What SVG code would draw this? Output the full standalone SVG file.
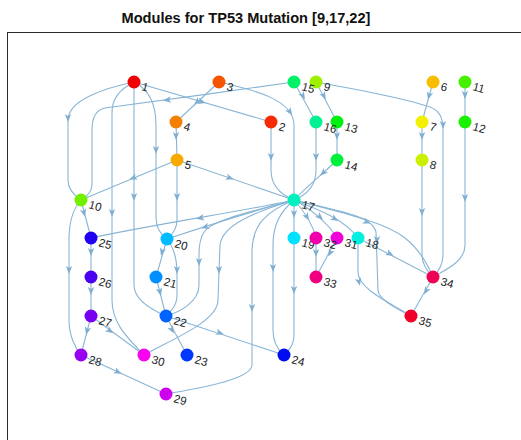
<svg xmlns="http://www.w3.org/2000/svg" xmlns:xlink="http://www.w3.org/1999/xlink" width="521" height="440" viewBox="0 0 521 440">
  <style>
    .title { font-family: "Liberation Sans", Arial, sans-serif; font-size: 14.6px; font-weight: bold; fill: #111; }
    .frame { fill: none; stroke: #2b2b2b; stroke-width: 1; }
    .edge path { fill: none; stroke: #88b5d6; stroke-width: 1.1; }
    .edge use { fill: #80aed0; }
    .node text { font-family: "Liberation Sans", Arial, sans-serif; font-size: 11.5px; fill: #222; }
  </style>
  <defs>
    <path id="ah" d="M4,0 L-4,-3.2 L-2,0 L-4,3.2 Z"/>
  </defs>

  <text class="title" x="246" y="23" text-anchor="middle">Modules for TP53 Mutation [9,17,22]</text>
  <rect class="frame" x="7.5" y="32.5" width="600" height="500"/>

  <g id="connectors">
    <g class="edge" id="e1-10"><path d="M134,82 C105,88 68,100 68,120 L68,180 C68,190 75,196 81,200"/><use xlink:href="#ah" transform="translate(68,118) rotate(90)"/></g>
    <g class="edge" id="e15-10"><path d="M294,82 C240,90 140,103 105,108 C95,110 92,118 92,130 L92,185 C92,192 86,197 81,200"/><use xlink:href="#ah" transform="translate(167,100) rotate(173)"/></g>
    <g class="edge" id="e1-30"><path d="M134,82 C118,90 112,100 112,112 L112,300 C112,325 130,340 144,355"/><use xlink:href="#ah" transform="translate(112,213) rotate(90)"/></g>
    <g class="edge" id="e1-22"><path d="M134,82 L134,285 C134,300 152,310 166,316"/><use xlink:href="#ah" transform="translate(134,197) rotate(90)"/></g>
    <g class="edge" id="e1-20"><path d="M134,82 C150,90 156,105 156,125 L156,215 C156,228 160,234 167,239"/><use xlink:href="#ah" transform="translate(156,150) rotate(90)"/></g>
    <g class="edge" id="e1-2"><path d="M134,82 L271,122"/><use xlink:href="#ah" transform="translate(202,102) rotate(16)"/></g>
    <g class="edge" id="e3-4"><path d="M219,82 L176,122"/><use xlink:href="#ah" transform="translate(197,102) rotate(137)"/></g>
    <g class="edge" id="e3-17"><path d="M219,82 C255,90 294,100 294,125 L294,200"/><use xlink:href="#ah" transform="translate(290,112) rotate(55)"/></g>
    <g class="edge" id="e2-17"><path d="M271,122 L271,170 C271,188 284,196 294,200"/><use xlink:href="#ah" transform="translate(271,157) rotate(90)"/></g>
    <g class="edge" id="e16-17"><path d="M316,122 L316,170 C316,188 304,196 294,200"/><use xlink:href="#ah" transform="translate(316,157) rotate(90)"/></g>
    <g class="edge" id="e14-17"><path d="M337,160 C325,172 305,188 294,200"/><use xlink:href="#ah" transform="translate(323,173) rotate(137)"/></g>
    <g class="edge" id="e15-16"><path d="M294,82 L316,122"/><use xlink:href="#ah" transform="translate(303,96) rotate(61)"/></g>
    <g class="edge" id="e9-13"><path d="M316,82 L337,122"/><use xlink:href="#ah" transform="translate(324,96) rotate(62)"/></g>
    <g class="edge" id="e9-34"><path d="M316,82 C360,90 410,100 430,107 C440,111 443,118 443,130 L443,255 C443,265 438,272 433,277"/><use xlink:href="#ah" transform="translate(443,125) rotate(90)"/></g>
    <g class="edge" id="e6-7"><path d="M433,82 L422,122"/><use xlink:href="#ah" transform="translate(429,96) rotate(105)"/></g>
    <g class="edge" id="e11-12"><path d="M465,82 L465,122"/><use xlink:href="#ah" transform="translate(465,95) rotate(90)"/></g>
    <g class="edge" id="e7-8"><path d="M422,122 L422,160"/><use xlink:href="#ah" transform="translate(422,136) rotate(90)"/></g>
    <g class="edge" id="e8-34"><path d="M422,160 L422,255 C422,265 428,272 433,277"/><use xlink:href="#ah" transform="translate(422,212) rotate(90)"/></g>
    <g class="edge" id="e12-34"><path d="M465,122 L465,245 C465,262 445,270 433,277"/><use xlink:href="#ah" transform="translate(465,198) rotate(90)"/></g>
    <g class="edge" id="e13-14"><path d="M337,122 L337,160"/><use xlink:href="#ah" transform="translate(337,136) rotate(90)"/></g>
    <g class="edge" id="e4-5"><path d="M176,122 L177,160"/><use xlink:href="#ah" transform="translate(176,136) rotate(90)"/></g>
    <g class="edge" id="e5-10"><path d="M177,160 L81,200"/><use xlink:href="#ah" transform="translate(133,178) rotate(157)"/></g>
    <g class="edge" id="e5-17"><path d="M177,160 L294,200"/><use xlink:href="#ah" transform="translate(230,178) rotate(19)"/></g>
    <g class="edge" id="e5-20"><path d="M177,160 L177,220 C177,230 172,235 167,239"/><use xlink:href="#ah" transform="translate(177,197) rotate(90)"/></g>
    <g class="edge" id="e17-25"><path d="M294,200 C250,210 150,225 91,238"/><use xlink:href="#ah" transform="translate(200,218) rotate(169)"/></g>
    <g class="edge" id="e17-20"><path d="M294,200 C250,212 200,228 167,239"/><use xlink:href="#ah" transform="translate(205,227) rotate(163)"/></g>
    <g class="edge" id="e17-22"><path d="M294,200 C250,212 212,220 204,232 C200,238 199,245 199,255 L199,285 C199,302 180,312 166,316"/><use xlink:href="#ah" transform="translate(199,262) rotate(90)"/></g>
    <g class="edge" id="e17-30"><path d="M294,200 C255,212 222,225 220,245 L218,300 C218,322 170,340 144,355"/><use xlink:href="#ah" transform="translate(219,270) rotate(90)"/></g>
    <g class="edge" id="e17-29"><path d="M294,200 C265,212 253,225 252,250 L252,365 C252,380 190,390 166,394"/><use xlink:href="#ah" transform="translate(252,308) rotate(90)"/></g>
    <g class="edge" id="e17-24"><path d="M294,200 C280,212 273,225 273,245 L273,330 C273,342 278,350 284,355"/><use xlink:href="#ah" transform="translate(273,268) rotate(90)"/></g>
    <g class="edge" id="e17-19"><path d="M294,200 L294,238"/><use xlink:href="#ah" transform="translate(294,214) rotate(90)"/></g>
    <g class="edge" id="e19-24"><path d="M294,238 L294,335 C294,345 289,350 284,355"/><use xlink:href="#ah" transform="translate(294,290) rotate(90)"/></g>
    <g class="edge" id="e17-32"><path d="M294,200 C305,212 313,225 316,238"/><use xlink:href="#ah" transform="translate(307,217) rotate(60)"/></g>
    <g class="edge" id="e17-31"><path d="M294,200 C310,208 330,225 337,238"/><use xlink:href="#ah" transform="translate(320,217) rotate(42)"/></g>
    <g class="edge" id="e17-18"><path d="M294,200 C320,210 345,220 358,238"/><use xlink:href="#ah" transform="translate(335,219) rotate(30)"/></g>
    <g class="edge" id="e17-34"><path d="M294,200 C340,212 385,222 405,238 C420,250 428,265 433,277"/><use xlink:href="#ah" transform="translate(367,222) rotate(22)"/></g>
    <g class="edge" id="e17-35"><path d="M294,200 C330,210 372,214 376,232 L378,290 C378,300 400,310 411,316"/><use xlink:href="#ah" transform="translate(377,240) rotate(90)"/></g>
    <g class="edge" id="e18-34"><path d="M358,238 L433,277"/><use xlink:href="#ah" transform="translate(390,254) rotate(27)"/></g>
    <g class="edge" id="e18-35"><path d="M358,238 L358,272 C358,290 395,305 411,316"/><use xlink:href="#ah" transform="translate(359,282) rotate(75)"/></g>
    <g class="edge" id="e34-35"><path d="M433,277 L411,316"/><use xlink:href="#ah" transform="translate(426,291) rotate(119)"/></g>
    <g class="edge" id="e32-33"><path d="M316,238 L316,277"/><use xlink:href="#ah" transform="translate(316,253) rotate(90)"/></g>
    <g class="edge" id="e31-33"><path d="M337,238 L316,277"/><use xlink:href="#ah" transform="translate(330,253) rotate(118)"/></g>
    <g class="edge" id="e10-25"><path d="M81,200 L91,238"/><use xlink:href="#ah" transform="translate(84,213) rotate(75)"/></g>
    <g class="edge" id="e10-28"><path d="M81,200 C72,210 69,225 69,240 L69,320 C69,335 75,348 81,355"/><use xlink:href="#ah" transform="translate(69,270) rotate(90)"/></g>
    <g class="edge" id="e25-26"><path d="M91,238 L91,277"/><use xlink:href="#ah" transform="translate(91,252) rotate(90)"/></g>
    <g class="edge" id="e26-27"><path d="M91,277 L91,316"/><use xlink:href="#ah" transform="translate(91,291) rotate(90)"/></g>
    <g class="edge" id="e27-28"><path d="M91,316 L81,355"/><use xlink:href="#ah" transform="translate(87,331) rotate(104)"/></g>
    <g class="edge" id="e27-30"><path d="M91,316 L144,355"/><use xlink:href="#ah" transform="translate(110,331) rotate(36)"/></g>
    <g class="edge" id="e28-29"><path d="M81,355 L166,394"/><use xlink:href="#ah" transform="translate(118,372) rotate(25)"/></g>
    <g class="edge" id="e20-21"><path d="M167,239 L156,277"/><use xlink:href="#ah" transform="translate(162,252) rotate(106)"/></g>
    <g class="edge" id="e20-22"><path d="M167,239 C175,250 177,260 177,275 L177,295 C177,305 172,310 166,316"/><use xlink:href="#ah" transform="translate(177,270) rotate(90)"/></g>
    <g class="edge" id="e21-22"><path d="M156,277 L166,316"/><use xlink:href="#ah" transform="translate(160,292) rotate(76)"/></g>
    <g class="edge" id="e22-23"><path d="M166,316 L187,355"/><use xlink:href="#ah" transform="translate(172,330) rotate(62)"/></g>
    <g class="edge" id="e22-24"><path d="M166,316 L284,355"/><use xlink:href="#ah" transform="translate(220,333) rotate(18)"/></g>
  </g>

  <g id="nodes">
    <g class="node" id="n1"><circle cx="134" cy="82" r="6.5" fill="#f00000"/><text transform="translate(141,90) rotate(15)">1</text></g>
    <g class="node" id="n2"><circle cx="271" cy="122" r="6.5" fill="#f52a00"/><text transform="translate(278,130) rotate(15)">2</text></g>
    <g class="node" id="n3"><circle cx="219" cy="82" r="6.5" fill="#f55500"/><text transform="translate(226,90) rotate(15)">3</text></g>
    <g class="node" id="n4"><circle cx="176" cy="122" r="6.5" fill="#f57f00"/><text transform="translate(183,130) rotate(15)">4</text></g>
    <g class="node" id="n5"><circle cx="177" cy="160" r="6.5" fill="#f8aa00"/><text transform="translate(184,168) rotate(15)">5</text></g>
    <g class="node" id="n6"><circle cx="433" cy="82" r="6.5" fill="#f8bc00"/><text transform="translate(440,90) rotate(15)">6</text></g>
    <g class="node" id="n7"><circle cx="422" cy="122" r="6.5" fill="#f2f000"/><text transform="translate(429,130) rotate(15)">7</text></g>
    <g class="node" id="n8"><circle cx="422" cy="160" r="6.5" fill="#caf000"/><text transform="translate(429,168) rotate(15)">8</text></g>
    <g class="node" id="n9"><circle cx="316" cy="82" r="6.5" fill="#9ef000"/><text transform="translate(323,90) rotate(15)">9</text></g>
    <g class="node" id="n10"><circle cx="81" cy="200" r="6.5" fill="#72f000"/><text transform="translate(88,208) rotate(15)">10</text></g>
    <g class="node" id="n11"><circle cx="465" cy="82" r="6.5" fill="#46f000"/><text transform="translate(472,90) rotate(15)">11</text></g>
    <g class="node" id="n12"><circle cx="465" cy="122" r="6.5" fill="#1bf000"/><text transform="translate(472,130) rotate(15)">12</text></g>
    <g class="node" id="n13"><circle cx="337" cy="122" r="6.5" fill="#00f010"/><text transform="translate(344,130) rotate(15)">13</text></g>
    <g class="node" id="n14"><circle cx="337" cy="160" r="6.5" fill="#00f03b"/><text transform="translate(344,168) rotate(15)">14</text></g>
    <g class="node" id="n15"><circle cx="294" cy="82" r="6.5" fill="#00f067"/><text transform="translate(301,90) rotate(15)">15</text></g>
    <g class="node" id="n16"><circle cx="316" cy="122" r="6.5" fill="#00f093"/><text transform="translate(323,130) rotate(15)">16</text></g>
    <g class="node" id="n17"><circle cx="294" cy="200" r="6.5" fill="#00f0bf"/><text transform="translate(301,208) rotate(15)">17</text></g>
    <g class="node" id="n18"><circle cx="358" cy="238" r="6.5" fill="#00f0e0"/><text transform="translate(365,246) rotate(15)">18</text></g>
    <g class="node" id="n19"><circle cx="294" cy="238" r="6.5" fill="#00e0ff"/><text transform="translate(301,246) rotate(15)">19</text></g>
    <g class="node" id="n20"><circle cx="167" cy="239" r="6.5" fill="#00bbff"/><text transform="translate(174,247) rotate(15)">20</text></g>
    <g class="node" id="n21"><circle cx="156" cy="277" r="6.5" fill="#008fff"/><text transform="translate(163,285) rotate(15)">21</text></g>
    <g class="node" id="n22"><circle cx="166" cy="316" r="6.5" fill="#0063ff"/><text transform="translate(173,324) rotate(15)">22</text></g>
    <g class="node" id="n23"><circle cx="187" cy="355" r="6.5" fill="#0037ff"/><text transform="translate(194,363) rotate(15)">23</text></g>
    <g class="node" id="n24"><circle cx="284" cy="355" r="6.5" fill="#000cf0"/><text transform="translate(291,363) rotate(15)">24</text></g>
    <g class="node" id="n25"><circle cx="91" cy="238" r="6.5" fill="#1f00f0"/><text transform="translate(98,246) rotate(15)">25</text></g>
    <g class="node" id="n26"><circle cx="91" cy="277" r="6.5" fill="#4b00f0"/><text transform="translate(98,285) rotate(15)">26</text></g>
    <g class="node" id="n27"><circle cx="91" cy="316" r="6.5" fill="#7700f0"/><text transform="translate(98,324) rotate(15)">27</text></g>
    <g class="node" id="n28"><circle cx="81" cy="355" r="6.5" fill="#9800f0"/><text transform="translate(88,363) rotate(15)">28</text></g>
    <g class="node" id="n29"><circle cx="166" cy="394" r="6.5" fill="#cf00f0"/><text transform="translate(173,402) rotate(15)">29</text></g>
    <g class="node" id="n30"><circle cx="144" cy="355" r="6.5" fill="#fa00f0"/><text transform="translate(151,363) rotate(15)">30</text></g>
    <g class="node" id="n31"><circle cx="337" cy="238" r="6.5" fill="#f000d8"/><text transform="translate(344,246) rotate(15)">31</text></g>
    <g class="node" id="n32"><circle cx="316" cy="238" r="6.5" fill="#f000ab"/><text transform="translate(323,246) rotate(15)">32</text></g>
    <g class="node" id="n33"><circle cx="316" cy="277" r="6.5" fill="#f00080"/><text transform="translate(323,285) rotate(15)">33</text></g>
    <g class="node" id="n34"><circle cx="433" cy="277" r="6.5" fill="#f00054"/><text transform="translate(440,285) rotate(15)">34</text></g>
    <g class="node" id="n35"><circle cx="411" cy="316" r="6.5" fill="#f00028"/><text transform="translate(418,324) rotate(15)">35</text></g>
  </g>
</svg>
